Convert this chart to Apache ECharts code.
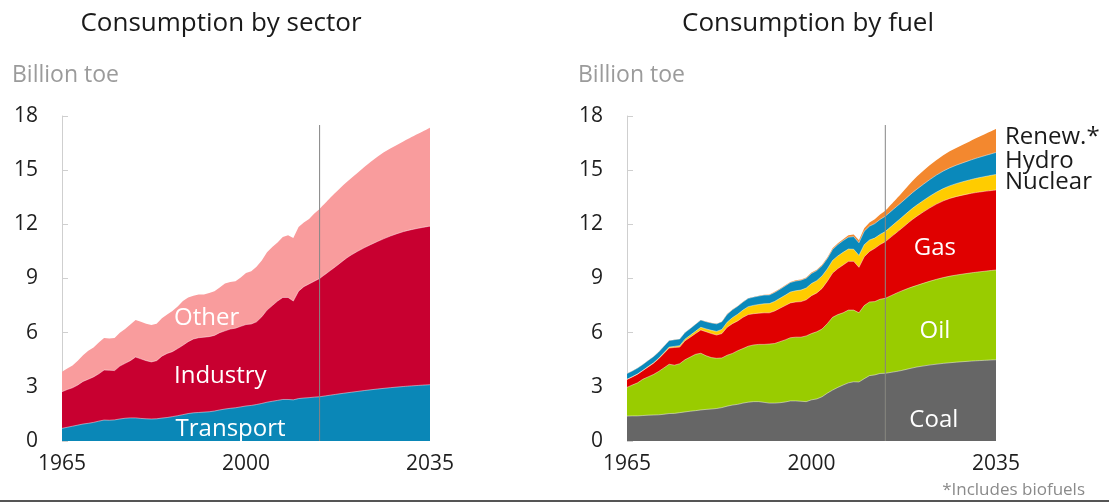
<!DOCTYPE html>
<html>
<head>
<meta charset="utf-8">
<title>Energy consumption by sector and by fuel</title>
<script src="https://cdn.jsdelivr.net/npm/echarts@6/dist/echarts.min.js"></script>
<style>
  html, body { margin: 0; padding: 0; background: #ffffff; }
  #chart { width: 1109px; height: 502px; }
</style>
</head>
<body>
<div id="chart"></div>
<script>
// Years: annual history up to 2014, then outlook points to 2035
const historyYears = [];
for (let y = 1965; y <= 2014; y++) historyYears.push(y);
const outlookYears = [2017, 2020, 2025, 2030, 2035];
const years = historyYears.concat(outlookYears);
const lastHistoryYear = 2014;

const xTickLabels = [1965, 2000, 2035];
const yTickLabels = [0, 3, 6, 9, 12, 15, 18];

// Consumption by sector, billion toe
const transport = [
  0.70, 0.76, 0.82, 0.88, 0.94, 0.98, 1.03, 1.10, 1.16, 1.15,
  1.17, 1.22, 1.26, 1.28, 1.28, 1.25, 1.23, 1.22, 1.23, 1.27,
  1.30, 1.35, 1.40, 1.46, 1.52, 1.56, 1.58, 1.60, 1.62, 1.66,
  1.72, 1.77, 1.81, 1.84, 1.89, 1.94, 1.97, 2.02, 2.08, 2.15,
  2.20, 2.25, 2.30, 2.30, 2.28, 2.35, 2.38, 2.40, 2.43, 2.45,
  2.58, 2.70, 2.88, 3.02, 3.12
];
const industry = [
  2.03, 2.09, 2.13, 2.22, 2.36, 2.44, 2.52, 2.62, 2.77, 2.77,
  2.73, 2.93, 3.04, 3.17, 3.37, 3.30, 3.22, 3.16, 3.22, 3.43,
  3.55, 3.60, 3.72, 3.84, 3.98, 4.09, 4.14, 4.15, 4.16, 4.19,
  4.28, 4.33, 4.39, 4.41, 4.46, 4.51, 4.51, 4.58, 4.80, 5.10,
  5.30, 5.50, 5.65, 5.65, 5.47, 5.95, 6.17, 6.30, 6.42, 6.55,
  7.07, 7.60, 8.17, 8.58, 8.78
];
const other = [
  1.11, 1.17, 1.23, 1.35, 1.45, 1.58, 1.63, 1.73, 1.77, 1.76,
  1.80, 1.85, 1.90, 2.00, 2.05, 2.05, 2.05, 2.04, 2.05, 2.10,
  2.15, 2.25, 2.33, 2.45, 2.45, 2.40, 2.40, 2.37, 2.42, 2.45,
  2.50, 2.62, 2.60, 2.60, 2.70, 2.85, 2.92, 3.05, 3.12, 3.20,
  3.25, 3.25, 3.35, 3.45, 3.50, 3.55, 3.55, 3.60, 3.75, 3.85,
  4.10, 4.25, 4.70, 5.00, 5.45
];

// Consumption by fuel, billion toe
const coal = [
  1.38, 1.39, 1.39, 1.41, 1.43, 1.44, 1.45, 1.48, 1.52, 1.53,
  1.57, 1.61, 1.65, 1.68, 1.72, 1.75, 1.77, 1.80, 1.85, 1.93,
  1.99, 2.03, 2.10, 2.15, 2.18, 2.18, 2.14, 2.10, 2.10, 2.12,
  2.16, 2.22, 2.22, 2.20, 2.18, 2.28, 2.33, 2.45, 2.65, 2.82,
  2.97, 3.10, 3.22, 3.28, 3.27, 3.45, 3.62, 3.66, 3.74, 3.75,
  3.90, 4.10, 4.30, 4.42, 4.50
];
const oil = [
  1.59, 1.71, 1.83, 2.01, 2.12, 2.24, 2.40, 2.57, 2.73, 2.67,
  2.71, 2.89, 3.00, 3.12, 3.14, 2.97, 2.85, 2.78, 2.75, 2.82,
  2.86, 2.97, 3.02, 3.10, 3.14, 3.17, 3.21, 3.27, 3.30, 3.38,
  3.44, 3.50, 3.53, 3.55, 3.64, 3.67, 3.72, 3.75, 3.85, 4.03,
  4.03, 4.00, 4.03, 3.97, 3.83, 4.05, 4.08, 4.06, 4.11, 4.15,
  4.40, 4.52, 4.75, 4.88, 4.97
];
const gas = [
  0.44, 0.45, 0.48, 0.48, 0.55, 0.62, 0.70, 0.80, 0.90, 0.98,
  0.92, 1.05, 1.10, 1.15, 1.29, 1.33, 1.33, 1.29, 1.35, 1.55,
  1.65, 1.65, 1.73, 1.75, 1.73, 1.73, 1.75, 1.73, 1.80, 1.85,
  1.90, 1.93, 1.95, 1.97, 2.00, 2.10, 2.15, 2.25, 2.35, 2.45,
  2.55, 2.65, 2.70, 2.70, 2.52, 2.70, 2.80, 2.95, 3.03, 3.14,
  3.45, 3.83, 4.25, 4.40, 4.43
];
const nuclear = [
  0.01, 0.01, 0.01, 0.01, 0.02, 0.02, 0.03, 0.04, 0.05, 0.06,
  0.08, 0.09, 0.11, 0.13, 0.15, 0.16, 0.18, 0.20, 0.23, 0.28,
  0.33, 0.37, 0.40, 0.44, 0.46, 0.48, 0.50, 0.51, 0.53, 0.55,
  0.57, 0.60, 0.62, 0.64, 0.65, 0.67, 0.68, 0.69, 0.68, 0.70,
  0.70, 0.70, 0.68, 0.67, 0.66, 0.67, 0.63, 0.57, 0.56, 0.56,
  0.60, 0.62, 0.68, 0.76, 0.86
];
const hydro = [
  0.32, 0.32, 0.33, 0.33, 0.34, 0.35, 0.35, 0.36, 0.36, 0.37,
  0.37, 0.37, 0.37, 0.39, 0.40, 0.40, 0.41, 0.42, 0.43, 0.44,
  0.44, 0.45, 0.45, 0.46, 0.46, 0.47, 0.48, 0.48, 0.50, 0.50,
  0.52, 0.53, 0.54, 0.55, 0.55, 0.56, 0.56, 0.57, 0.58, 0.61,
  0.63, 0.65, 0.66, 0.70, 0.70, 0.75, 0.77, 0.80, 0.83, 0.85,
  0.85, 0.88, 0.97, 1.08, 1.22
];
const renewables = [
  0.00, 0.00, 0.00, 0.00, 0.00, 0.00, 0.00, 0.00, 0.00, 0.00,
  0.00, 0.00, 0.00, 0.00, 0.00, 0.01, 0.01, 0.01, 0.01, 0.01,
  0.01, 0.01, 0.01, 0.01, 0.01, 0.02, 0.02, 0.02, 0.03, 0.03,
  0.03, 0.03, 0.04, 0.04, 0.04, 0.05, 0.05, 0.05, 0.06, 0.06,
  0.07, 0.08, 0.10, 0.12, 0.14, 0.17, 0.20, 0.24, 0.27, 0.30,
  0.50, 0.70, 0.88, 1.05, 1.30
];

const FONT = '"Open Sans", "Liberation Sans", Arial, sans-serif';
const SEPARATOR = 'rgba(255,255,255,0.45)';
const splitIndex = years.indexOf(lastHistoryYear);

// Layers listed bottom to top; each layer's area is drawn down to zero from
// its running total, with the higher layers painted first so lower ones sit on top.
// History is drawn as straight annual segments, the outlook as a smooth curve.
function stackedAreaSeries(layers, gridIndex) {
  const running = years.map(() => 0);
  const built = [];
  layers.forEach((layer, k) => {
    const tops = layer.values.map((v, i) => (running[i] += v));
    const points = years.map((y, i) => [y, +tops[i].toFixed(3)]);
    const topLayer = k === layers.length - 1;
    const base = {
      name: layer.name,
      type: 'line',
      xAxisIndex: gridIndex,
      yAxisIndex: gridIndex,
      symbol: 'none',
      silent: true,
      itemStyle: { color: layer.color },
      lineStyle: topLayer ? { width: 0, opacity: 0 } : { width: 1, color: SEPARATOR },
      areaStyle: { color: layer.color, opacity: 1, origin: 'start' }
    };
    built.push([
      Object.assign({}, base, { data: points.slice(0, splitIndex + 1) }),
      Object.assign({}, base, { data: points.slice(splitIndex), smooth: 0.35 })
    ]);
  });
  return built.reverse().flat();
}

function dividerSeries(gridIndex) {
  return {
    type: 'line',
    xAxisIndex: gridIndex,
    yAxisIndex: gridIndex,
    data: [[lastHistoryYear, 0], [lastHistoryYear, 17.5]],
    symbol: 'none',
    silent: true,
    z: 5,
    lineStyle: { color: '#858585', width: 1 }
  };
}

function xAxis(gridIndex) {
  return {
    type: 'value',
    gridIndex: gridIndex,
    min: 1965,
    max: 2035,
    interval: 5,
    axisLine: { show: false },
    axisTick: { show: false },
    splitLine: { show: false },
    axisLabel: {
      formatter: v => (xTickLabels.indexOf(v) >= 0 ? String(v) : ''),
      color: '#1e1e1e',
      fontSize: 21,
      fontFamily: FONT,
      margin: 13,
      showMinLabel: true,
      showMaxLabel: true
    }
  };
}

function yAxis(gridIndex) {
  return {
    type: 'value',
    gridIndex: gridIndex,
    min: yTickLabels[0],
    max: yTickLabels[yTickLabels.length - 1],
    interval: yTickLabels[1] - yTickLabels[0],
    axisLine: { show: true, lineStyle: { color: '#cfcfcf', width: 1 } },
    axisTick: { show: true, inside: true, length: 6, lineStyle: { color: '#cfcfcf' } },
    splitLine: { show: false },
    axisLabel: { color: '#1e1e1e', fontSize: 21, fontFamily: FONT, margin: 24 }
  };
}

const sectorLayers = [
  { name: 'Transport', values: transport, color: '#0a87b7' },
  { name: 'Industry', values: industry, color: '#c80030' },
  { name: 'Other', values: other, color: '#f99c9d' }
];
const fuelLayers = [
  { name: 'Coal', values: coal, color: '#666666' },
  { name: 'Oil', values: oil, color: '#99cc00' },
  { name: 'Gas', values: gas, color: '#e00000' },
  { name: 'Nuclear', values: nuclear, color: '#ffcc00' },
  { name: 'Hydro', values: hydro, color: '#0a89bb' },
  { name: 'Renew.*', values: renewables, color: '#f3882f' }
];

const chart = echarts.init(document.getElementById('chart'), null, { renderer: 'canvas' });

chart.setOption({
  animation: false,
  backgroundColor: '#ffffff',
  grid: [
    { left: 62, top: 116, width: 368, height: 325 },
    { left: 627, top: 116, width: 369, height: 325 }
  ],
  xAxis: [xAxis(0), xAxis(1)],
  yAxis: [yAxis(0), yAxis(1)],
  series: []
    .concat(stackedAreaSeries(sectorLayers, 0))
    .concat([dividerSeries(0)])
    .concat(stackedAreaSeries(fuelLayers, 1))
    .concat([dividerSeries(1)])
});

// Series names written inside the areas and beside the fuel chart
const areaLabels = [
  { text: 'Other', grid: 0, at: [1986.3, 6.78], align: 'left' },
  { text: 'Industry', grid: 0, at: [1986.3, 3.61], align: 'left' },
  { text: 'Transport', grid: 0, at: [1986.6, 0.65], align: 'left' },
  { text: 'Gas', grid: 1, at: [2023.4, 10.7], align: 'center' },
  { text: 'Oil', grid: 1, at: [2023.4, 6.09], align: 'center' },
  { text: 'Coal', grid: 1, at: [2023.2, 1.16], align: 'center' }
];
const sideLabels = [
  { text: 'Renew.*', grid: 1, at: [2035, 16.85] },
  { text: 'Hydro', grid: 1, at: [2035, 15.51] },
  { text: 'Nuclear', grid: 1, at: [2035, 14.31] }
];

function textEl(text, x, y, size, fill, align) {
  return {
    type: 'text',
    x: x,
    y: y,
    silent: true,
    z: 10,
    style: {
      text: text,
      fill: fill,
      fontSize: size,
      fontFamily: FONT,
      align: align,
      verticalAlign: 'middle'
    }
  };
}

const elements = [
  textEl('Consumption by sector', 221, 24, 26, '#1a1a1a', 'center'),
  textEl('Consumption by fuel', 808, 24, 26, '#1a1a1a', 'center'),
  textEl('Billion toe', 12, 75, 23, '#9b9b9b', 'left'),
  textEl('Billion toe', 578, 75, 23, '#9b9b9b', 'left'),
  textEl('*Includes biofuels', 1085, 490, 17, '#8a8a8a', 'right'),
  {
    type: 'line',
    silent: true,
    z: 10,
    shape: { x1: 0, y1: 501, x2: 1109, y2: 501 },
    style: { stroke: '#555555', lineWidth: 2 }
  }
];

areaLabels.forEach(l => {
  const p = chart.convertToPixel({ gridIndex: l.grid }, l.at);
  elements.push(textEl(l.text, p[0], p[1], 24, '#ffffff', l.align));
});
sideLabels.forEach(l => {
  const p = chart.convertToPixel({ gridIndex: l.grid }, l.at);
  elements.push(textEl(l.text, p[0] + 9, p[1], 24, '#1a1a1a', 'left'));
});

chart.setOption({ graphic: { elements: elements } });
</script>
</body>
</html>
